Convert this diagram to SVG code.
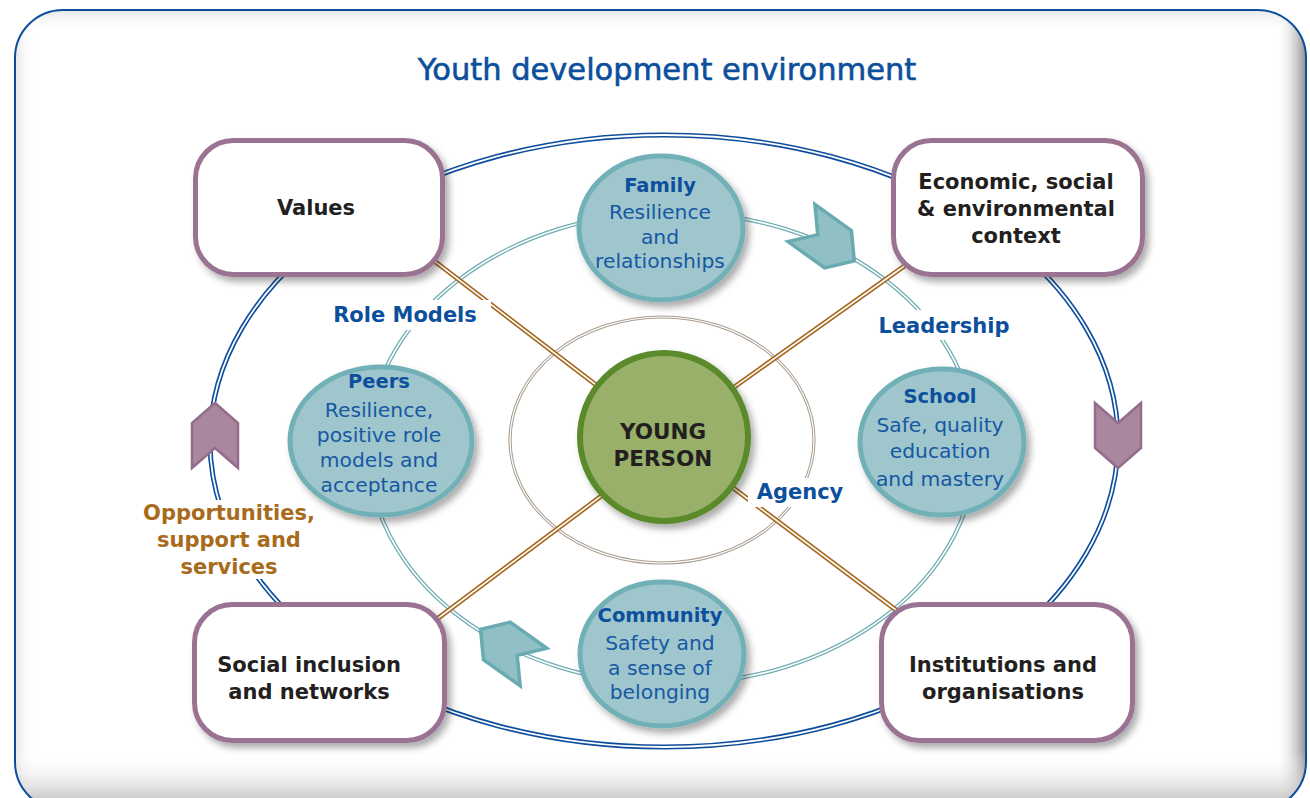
<svg xmlns="http://www.w3.org/2000/svg" xmlns:xlink="http://www.w3.org/1999/xlink" width="1310" height="798" viewBox="0 0 1310 798">
<defs>
<style>
text{font-family:"DejaVu Sans","Liberation Sans",sans-serif;text-anchor:middle}
.title{font-size:30.5px;fill:#0c4f9c;stroke:#0c4f9c;stroke-width:0.6}
.box{fill:#fff;stroke:#9b7392;stroke-width:5}
.boxt{font-size:21px;font-weight:bold;fill:#231f20}
.circ{fill:#9fc6cd;stroke:#72b0b8;stroke-width:5}
.ct{font-size:19.5px;font-weight:bold;fill:#0c4f9c}
.cb{font-size:20.3px;fill:#1658a3}
.lbl{font-size:21px;font-weight:bold;fill:#0c4f9c}
.opp{font-size:21px;font-weight:bold;fill:#a86b1b}
.yp{font-size:21.5px;font-weight:bold;fill:#231f20}
.bg{fill:#fff}
.blueA{fill:none;stroke:#0d4e9c;stroke-width:5}
.blueB{fill:none;stroke:#fff;stroke-width:1.8}
.tealA{fill:none;stroke:#6fadb4;stroke-width:4.2}
.tealB{fill:none;stroke:#fff;stroke-width:1.6}
.greyA{fill:none;stroke:#a99c90;stroke-width:3.2}
.greyB{fill:none;stroke:#fff;stroke-width:1.2}
.brA{stroke:#a5661c;stroke-width:4.8}
.brB{stroke:#fff;stroke-width:1.6}
.pch{fill:#a8879f;stroke:#936d8c;stroke-width:2.5;stroke-linejoin:miter}
.tch{fill:#90bfc5;stroke:#6aabb2;stroke-width:3.5;stroke-linejoin:miter}
</style>
<filter id="sh" x="-20%" y="-20%" width="150%" height="150%">
<feDropShadow dx="4" dy="5" stdDeviation="3.5" flood-color="#000" flood-opacity="0.33"/>
</filter>
<linearGradient id="gr" x1="0" y1="0" x2="1" y2="0">
<stop offset="0" stop-color="#fff" stop-opacity="0"/>
<stop offset="1" stop-color="#8f8f8f"/>
</linearGradient>
<linearGradient id="gb" x1="0" y1="0" x2="0" y2="1">
<stop offset="0" stop-color="#fff" stop-opacity="0"/>
<stop offset="1" stop-color="#b0b0b0"/>
</linearGradient>
<linearGradient id="gt" x1="0" y1="0" x2="0" y2="1">
<stop offset="0" stop-color="#e6e6e6"/>
<stop offset="1" stop-color="#fff" stop-opacity="0"/>
</linearGradient>
<linearGradient id="gl" x1="0" y1="0" x2="1" y2="0">
<stop offset="0" stop-color="#e6e6e6"/>
<stop offset="1" stop-color="#fff" stop-opacity="0"/>
</linearGradient>
<clipPath id="fc"><rect x="15" y="10" width="1291" height="800" rx="48"/></clipPath>
<polygon id="chev" points="0,-23 20,0 0,23 45,23 65,0 45,-23"/>
</defs>

<g id="frame">
<rect x="0" y="0" width="1310" height="798" fill="#fff"/>
<rect x="15" y="10" width="1291" height="800" rx="48" fill="#fff"/>
<g clip-path="url(#fc)">
<rect x="15" y="10" width="1291" height="22" fill="url(#gt)"/>
<rect x="15" y="10" width="20" height="800" fill="url(#gl)"/>
<rect x="1276" y="10" width="30" height="800" fill="url(#gr)"/>
<rect x="15" y="752" width="1291" height="58" fill="url(#gb)"/>
</g>
<rect x="15" y="10" width="1291" height="800" rx="48" fill="none" stroke="#0d4e9c" stroke-width="2"/>
<text class="title" x="667" y="80">Youth development environment</text>
</g>

<g id="connectors">
<ellipse class="blueA" cx="664" cy="441" rx="454" ry="306"/>
<ellipse class="blueB" cx="664" cy="441" rx="454" ry="306"/>
<ellipse class="tealA" cx="672" cy="448" rx="304" ry="236"/>
<ellipse class="tealB" cx="672" cy="448" rx="304" ry="236"/>
<ellipse class="greyA" cx="662" cy="440" rx="152" ry="123"/>
<ellipse class="greyB" cx="662" cy="440" rx="152" ry="123"/>
<line class="brA" x1="420" y1="250" x2="664" y2="437"/>
<line class="brB" x1="420" y1="250" x2="664" y2="437"/>
<line class="brA" x1="664" y1="437" x2="910" y2="262"/>
<line class="brB" x1="664" y1="437" x2="910" y2="262"/>
<line class="brA" x1="425" y1="628" x2="664" y2="449"/>
<line class="brB" x1="425" y1="628" x2="664" y2="449"/>
<line class="brA" x1="664" y1="436" x2="900" y2="613"/>
<line class="brB" x1="664" y1="436" x2="900" y2="613"/>
<use xlink:href="#chev" class="pch" transform="translate(1118,403) rotate(90)"/>
<use xlink:href="#chev" class="pch" transform="translate(215,468) rotate(-90)"/>
<use xlink:href="#chev" class="tch" transform="translate(801.5,223) rotate(35.7)"/>
<use xlink:href="#chev" class="tch" transform="translate(533.5,667) rotate(215.4)"/>
</g>

<g id="labels">
<rect class="bg" x="328" y="300" width="163" height="30"/>
<text class="lbl" x="405" y="322">Role Models</text>
<rect class="bg" x="874" y="310" width="140" height="30"/>
<text class="lbl" x="944" y="333">Leadership</text>
<rect class="bg" x="748" y="478" width="100" height="29"/>
<text class="lbl" x="800" y="499">Agency</text>
<rect class="bg" x="138" y="500" width="186" height="79"/>
<text class="opp" x="229" y="520">Opportunities,</text>
<text class="opp" x="229" y="547">support and</text>
<text class="opp" x="229" y="574">services</text>
</g>

<g id="young-person">
<circle cx="664" cy="437" r="84" fill="#98b06a" stroke="#5a8a2a" stroke-width="6" filter="url(#sh)"/>
<text class="yp" x="663" y="439">YOUNG</text>
<text class="yp" x="663" y="466">PERSON</text>
</g>

<g id="family">
<ellipse class="circ" cx="661" cy="228" rx="82" ry="72" filter="url(#sh)"/>
<text class="ct" x="660" y="192">Family</text>
<text class="cb" x="660" y="219">Resilience</text>
<text class="cb" x="660" y="244">and</text>
<text class="cb" x="660" y="268">relationships</text>
</g>

<g id="peers">
<ellipse class="circ" cx="381" cy="441" rx="91" ry="74" filter="url(#sh)"/>
<text class="ct" x="379" y="388">Peers</text>
<text class="cb" x="379" y="417">Resilience,</text>
<text class="cb" x="379" y="442">positive role</text>
<text class="cb" x="379" y="467">models and</text>
<text class="cb" x="379" y="492">acceptance</text>
</g>

<g id="school">
<ellipse class="circ" cx="942" cy="442" rx="82" ry="73" filter="url(#sh)"/>
<text class="ct" x="940" y="403">School</text>
<text class="cb" x="940" y="432">Safe, quality</text>
<text class="cb" x="940" y="458">education</text>
<text class="cb" x="940" y="486">and mastery</text>
</g>

<g id="community">
<ellipse class="circ" cx="662" cy="654" rx="82" ry="72" filter="url(#sh)"/>
<text class="ct" x="660" y="622">Community</text>
<text class="cb" x="660" y="650">Safety and</text>
<text class="cb" x="660" y="675">a sense of</text>
<text class="cb" x="660" y="699">belonging</text>
</g>

<g id="values">
<rect class="box" x="195.5" y="140.5" width="247" height="134" rx="38" filter="url(#sh)"/>
<text class="boxt" x="316" y="215">Values</text>
</g>

<g id="economic">
<rect class="box" x="893.5" y="140.5" width="249" height="134" rx="38" filter="url(#sh)"/>
<text class="boxt" x="1016" y="189">Economic, social</text>
<text class="boxt" x="1016" y="216">&amp; environmental</text>
<text class="boxt" x="1016" y="243">context</text>
</g>

<g id="social-inclusion">
<rect class="box" x="194.5" y="604.5" width="250" height="136" rx="38" filter="url(#sh)"/>
<text class="boxt" x="309" y="672">Social inclusion</text>
<text class="boxt" x="309" y="699">and networks</text>
</g>

<g id="institutions">
<rect class="box" x="881.5" y="604.5" width="251" height="136" rx="38" filter="url(#sh)"/>
<text class="boxt" x="1003" y="672">Institutions and</text>
<text class="boxt" x="1003" y="699">organisations</text>
</g>
</svg>
